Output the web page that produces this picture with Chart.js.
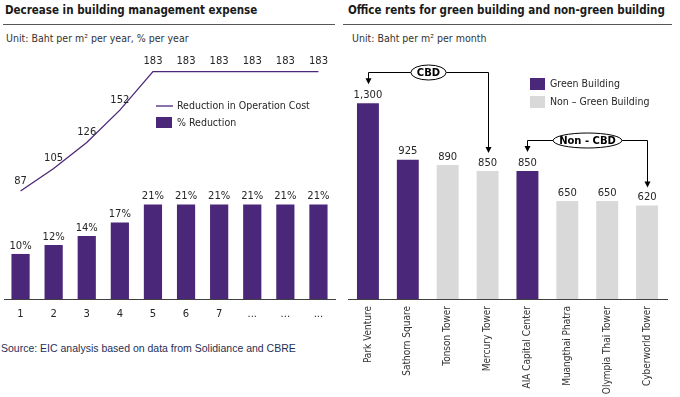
<!DOCTYPE html>
<html>
<head>
<meta charset="utf-8">
<script src="https://cdn.jsdelivr.net/npm/chart.js@4"></script>
<style>
body { margin:0; background:#fff; width:680px; height:397px; overflow:hidden; position:relative; font-family:'DejaVu Sans Condensed','DejaVu Sans',sans-serif; color:#262626; }
.t { position:absolute; white-space:nowrap; line-height:13px; }
.title { font-weight:bold; font-size:11.5px; color:#1a1a1a; }
.sub { font-size:10.5px; color:#333; }
.rule { position:absolute; height:1px; background:#555; }
.src { font-family:'Liberation Sans',Arial,sans-serif; font-size:10.5px; color:#1f2f57; }
#cvCost { position:absolute; left:0; top:0; }
#cvRent { position:absolute; left:340px; top:0; }
</style>
</head>
<body>
<div class="t title" style="left:5px;top:4px">Decrease in building management expense</div>
<div class="rule" style="left:3px;top:24px;width:332px"></div>
<div class="t sub" style="left:6px;top:32px">Unit: Baht per m² per year, % per year</div>

<div class="t title" style="left:348px;top:4px">Office rents for green building and non-green building</div>
<div class="rule" style="left:343px;top:24px;width:329px"></div>
<div class="t sub" style="left:352px;top:32px">Unit: Baht per m² per month</div>

<div class="t src" style="left:1px;top:342px">Source: EIC analysis based on data from Solidiance and CBRE</div>

<canvas id="cvCost" width="340" height="330"></canvas>
<canvas id="cvRent" width="340" height="397"></canvas>

<script>
// left chart
var years = ['1', '2', '3', '4', '5', '6', '7', '...', '...', '...'];
var costCut = [87, 105, 126, 152, 183, 183, 183, 183, 183, 183];
var pctCut = [10, 12, 14, 17, 21, 21, 21, 21, 21, 21];

// right chart
var buildings = ['Park Venture', 'Sathorn Square', 'Tonson Tower', 'Mercury Tower', 'AIA Capital Center', 'Muangthai Phatra', 'Olympia Thai Tower', 'Cyberworld Tower'];
var rents = [1300, 925, 890, 850, 850, 650, 650, 620];
var green = [true, true, false, false, true, false, false, false];
var zones = ['CBD', 'Non - CBD'];
var zoneFrom = [0, 4];
var zoneTo = [3, 7];

var PURPLE = '#4b2779';
var GREY = '#d9d9d9';
var LBL = '10px "DejaVu Sans"';
var LEG = '10.5px "DejaVu Sans Condensed", "DejaVu Sans"';

function fmt(v, suffix) {
    return v.toLocaleString('en-US') + (suffix || '');
}

var valueLabels = {
    id: 'valueLabels',
    afterDatasetsDraw: function (chart, args, opts) {
        var ctx = chart.ctx;
        chart.data.datasets.forEach(function (ds, i) {
            var meta = chart.getDatasetMeta(i);
            var gap = opts.gap[i];
            ctx.save();
            ctx.font = LBL;
            ctx.fillStyle = '#262626';
            ctx.textAlign = 'center';
            ctx.textBaseline = 'bottom';
            meta.data.forEach(function (el, j) {
                ctx.fillText(fmt(ds.data[j], opts.suffix[i]), el.x, el.y - gap);
            });
            ctx.restore();
        });
    }
};

var costLegend = {
    id: 'costLegend',
    afterDraw: function (chart) {
        var ctx = chart.ctx;
        ctx.save();
        ctx.strokeStyle = PURPLE;
        ctx.lineWidth = 1.3;
        ctx.beginPath();
        ctx.moveTo(156, 106);
        ctx.lineTo(173, 106);
        ctx.stroke();
        ctx.fillStyle = PURPLE;
        ctx.fillRect(156, 117, 16, 11);
        ctx.fillStyle = '#262626';
        ctx.font = LEG;
        ctx.textBaseline = 'middle';
        ctx.fillText('Reduction in Operation Cost', 177, 106);
        ctx.fillText('% Reduction', 177, 123);
        ctx.restore();
    }
};

var rentLegend = {
    id: 'rentLegend',
    afterDraw: function (chart) {
        var ctx = chart.ctx;
        ctx.save();
        ctx.fillStyle = PURPLE;
        ctx.fillRect(190, 78, 15, 12);
        ctx.fillStyle = GREY;
        ctx.fillRect(190, 96, 15, 12);
        ctx.fillStyle = '#262626';
        ctx.font = LEG;
        ctx.textBaseline = 'middle';
        ctx.fillText('Green Building', 210, 84);
        ctx.fillText('Non \u2013 Green Building', 210, 102);
        ctx.restore();
    }
};

function arrowDown(ctx, x, y0, y1) {
    ctx.beginPath();
    ctx.moveTo(x, y0);
    ctx.lineTo(x, y1 - 5);
    ctx.stroke();
    ctx.beginPath();
    ctx.moveTo(x - 3, y1 - 6);
    ctx.lineTo(x + 3, y1 - 6);
    ctx.lineTo(x, y1);
    ctx.closePath();
    ctx.fill();
}

var zoneBrackets = {
    id: 'zoneBrackets',
    afterDraw: function (chart) {
        var ctx = chart.ctx;
        var xs = chart.scales.x, ys = chart.scales.y;
        ctx.save();
        ctx.strokeStyle = '#000';
        ctx.fillStyle = '#000';
        ctx.lineWidth = 1;
        ctx.font = 'bold 10px "DejaVu Sans"';
        zones.forEach(function (name, k) {
            var xa = Math.round(xs.getPixelForValue(zoneFrom[k])) + 0.5;
            var xb = Math.round(xs.getPixelForValue(zoneTo[k])) + 0.5;
            var ya = ys.getPixelForValue(rents[zoneFrom[k]]);
            var yb = ys.getPixelForValue(rents[zoneTo[k]]);
            var hy = Math.round(ya - 31) + 0.5;
            var cx = (xa + xb) / 2;
            var w = ctx.measureText(name).width + 12;
            ctx.beginPath();
            ctx.moveTo(xa, hy);
            ctx.lineTo(cx - w / 2, hy);
            ctx.moveTo(cx + w / 2, hy);
            ctx.lineTo(xb, hy);
            ctx.stroke();
            arrowDown(ctx, xa, hy, ya - 19);
            arrowDown(ctx, xb, hy, yb - 18);
            ctx.beginPath();
            ctx.ellipse(cx, hy, w / 2, 7.5, 0, 0, Math.PI * 2);
            ctx.fillStyle = '#fff';
            ctx.fill();
            ctx.stroke();
            ctx.fillStyle = '#000';
            ctx.textAlign = 'center';
            ctx.textBaseline = 'middle';
            ctx.fillText(name, cx, hy + 0.5);
        });
        ctx.restore();
    }
};

new Chart(document.getElementById('cvCost'), {
    type: 'bar',
    data: {
        labels: years,
        datasets: [
            {
                type: 'line',
                data: costCut,
                yAxisID: 'y1',
                borderColor: PURPLE,
                borderWidth: 1.3,
                pointRadius: 0,
                tension: 0
            },
            {
                data: pctCut,
                yAxisID: 'y',
                backgroundColor: PURPLE,
                barPercentage: 0.55,
                categoryPercentage: 1
            }
        ]
    },
    options: {
        responsive: false,
        animation: false,
        layout: { padding: { left: 4, right: 5, top: 58, bottom: 0 } },
        plugins: {
            legend: { display: false },
            tooltip: { enabled: false },
            valueLabels: { gap: [5, 3], suffix: ['', '%'] }
        },
        scales: {
            x: {
                grid: { display: false, drawTicks: false },
                border: { display: true, color: '#404040', width: 1 },
                ticks: { font: { family: 'DejaVu Sans', size: 10 }, color: '#262626', padding: 9 },
                afterFit: function (s) { s.height = 31; }
            },
            y: { display: false, min: 0, max: 53.5 },
            y1: { display: false, min: 0, max: 194 }
        }
    },
    plugins: [valueLabels, costLegend]
});

new Chart(document.getElementById('cvRent'), {
    type: 'bar',
    data: {
        labels: buildings,
        datasets: [
            {
                data: rents,
                backgroundColor: green.map(function (g) { return g ? PURPLE : GREY; }),
                barPercentage: 0.55,
                categoryPercentage: 1
            }
        ]
    },
    options: {
        responsive: false,
        animation: false,
        layout: { padding: { left: 8, right: 13, top: 58, bottom: 0 } },
        plugins: {
            legend: { display: false },
            tooltip: { enabled: false },
            valueLabels: { gap: [3], suffix: [''] }
        },
        scales: {
            x: {
                grid: { display: false, drawTicks: false },
                border: { display: true, color: '#404040', width: 1 },
                ticks: {
                    font: { family: '"Liberation Sans Narrow", "DejaVu Sans Condensed", sans-serif', size: 10 },
                    color: '#333',
                    padding: 7,
                    minRotation: 90,
                    maxRotation: 90,
                    autoSkip: false
                },
                afterFit: function (s) { s.height = 98; }
            },
            y: { display: false, min: 0, max: 1600 }
        }
    },
    plugins: [valueLabels, rentLegend, zoneBrackets]
});
</script>
</body>
</html>
